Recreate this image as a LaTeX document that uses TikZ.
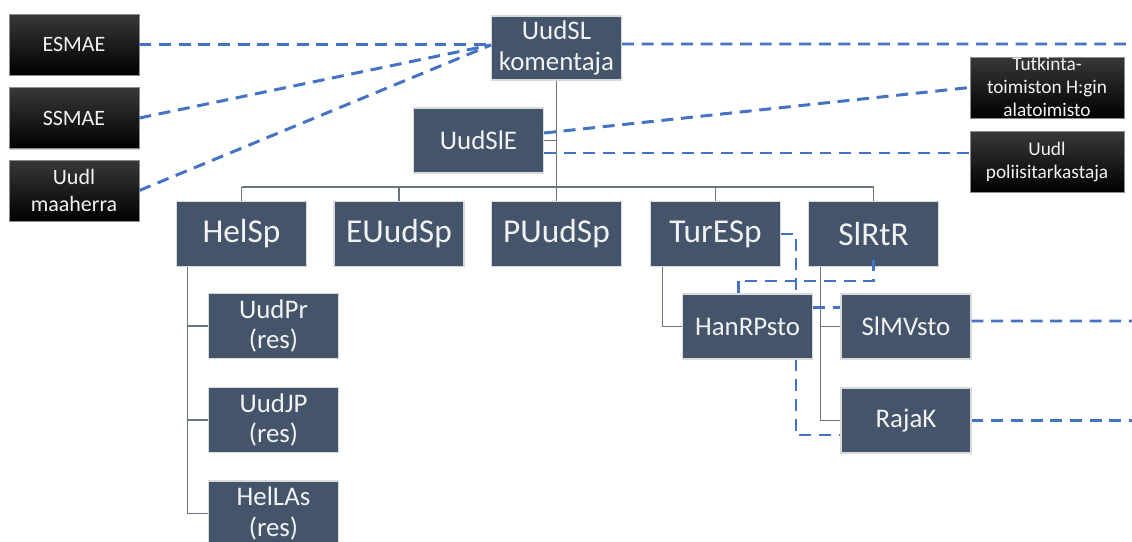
\documentclass[tikz,border=0pt]{standalone}
\usepackage{fontspec}
\setmainfont{Carlito}
\usetikzlibrary{calc}
\usetikzlibrary{positioning}
\usetikzlibrary{shadows}

\definecolor{slate}{RGB}{68,84,106}
\definecolor{linkblue}{RGB}{68,114,196}
\definecolor{treegray}{RGB}{105,115,130}
\definecolor{boxtext}{RGB}{242,242,242}

\tikzset{
  unit/.style={rectangle, fill=slate, draw=black!15, line width=0.6pt, text=boxtext, align=center,
    inner sep=0pt, minimum width=2.6cm, minimum height=1.3cm},
  big/.style={unit, font=\fontsize{19}{22}\selectfont},
  sub/.style={unit, font=\fontsize{15.3}{17.6}\selectfont},
  ext/.style={rectangle, top color=black!78, middle color=black, bottom color=black, draw=black!45,
    line width=0.4pt, text=boxtext, align=center, inner sep=0pt, minimum width=2.6cm,
    minimum height=1.22cm, drop shadow={opacity=0.35, shadow xshift=0.8pt, shadow yshift=-0.8pt},
    font=\fontsize{12.5}{15}\selectfont},
  note/.style={ext, minimum width=3.08cm, font=\fontsize{11}{13.1}\selectfont},
  tree/.style={treegray, line width=0.9pt},
  link/.style={linkblue, line width=1.7pt, dash pattern=on 6.8pt off 4.4pt},
}

\begin{document}
\begin{tikzpicture}[x=0.02cm, y=-0.02cm]
	\useasboundingbox (0,0) rectangle (1132,541);

	% outside units
	\node[ext] (esmae) at (74,44.5) {ESMAE};
	\node[ext] (ssmae) at (74,118) {SSMAE};
	\node[ext] (maaherra) at (74,190.5) {Uudl\\maaherra};
	\node[note, text height=1.2cm, text depth=0.02cm] (tutkinta) at (1047,87.5) {Tutkinta-\\toimiston H:gin\\alatoimisto};
	\node[note] (polis) at (1047,161.5) {Uudl\\poliisitarkastaja};

	% command
	\node[sub, minimum height=1.28cm] (komentaja) at (556.5,48) {UudSL\\komentaja};
	\node[sub] (uudsle) at (478.5,140.5) {UudSlE};

	% main units
	\node[big] (helsp) at (241.5,234) {HelSp};
	\node[big] (euudsp) at (399,234) {EUudSp};
	\node[big] (puudsp) at (556.5,234) {PUudSp};
	\node[big] (turesp) at (715.5,234) {TurESp};
	\node[big] (slrtr) at (873.5,234) {SlRtR};

	% sub units
	\node[sub] (uudpr) at (273.5,326) {UudPr\\(res)};
	\node[sub] (uudjp) at (273.5,420) {UudJP\\(res)};
	\node[sub] (hellas) at (273.5,513.5) {HelLAs\\(res)};
	\node[sub] (hanrpsto) at (747.5,326.5) {HanRPsto};
	\node[sub] (slmvsto) at (906,326.5) {SlMVsto};
	\node[sub] (rajak) at (906,420.5) {RajaK};

	% chain of command
	\coordinate (bus) at (556.5,187);
	\draw[tree] (komentaja.south) -- (puudsp.north);
	\draw[tree] (bus -| helsp) -- (bus -| slrtr);
	\draw[tree] (bus -| helsp) -- (helsp.north);
	\draw[tree] (bus -| euudsp) -- (euudsp.north);
	\draw[tree] (bus -| turesp) -- (turesp.north);
	\draw[tree] (bus -| slrtr) -- (slrtr.north);
	\draw[tree] (uudsle.east) -- (uudsle.east -| komentaja.south);
	\draw[tree] ([xshift=0.23cm]helsp.south west) |- (uudpr.west);
	\draw[tree] ([xshift=0.23cm]helsp.south west) |- (uudjp.west);
	\draw[tree] ([xshift=0.23cm]helsp.south west) |- (hellas.west);
	\draw[tree] ([xshift=0.25cm]turesp.south west) |- (hanrpsto.west);
	\draw[tree] ([xshift=0.25cm]slrtr.south west) |- (slmvsto.west);
	\draw[tree] ([xshift=0.25cm]slrtr.south west) |- (rajak.west);

	% cooperation links
	\coordinate (farA) at (1132,44);
	\coordinate (farB) at (1132,321);
	\coordinate (farC) at (1132,420.5);
	\coordinate (jog) at (738,281);
	\draw[link] (esmae.east) -- (esmae.east -| komentaja.west);
	\draw[link] (ssmae.east) -- ([yshift=0.06cm]komentaja.west);
	\draw[link] (maaherra.east) -- ([yshift=0.06cm]komentaja.west);
	\draw[link] ([yshift=0.08cm]komentaja.east) -- (farA);
	\draw[link] ([yshift=0.15cm]uudsle.east) -- (tutkinta.west);
	\draw[link] ([yshift=-0.25cm]uudsle.east) coordinate (lowE) -- (lowE -| polis.west);
	\draw[link] (turesp.east) -| ([xshift=0.97cm]hanrpsto.north);
	\draw[link] ([yshift=0.15cm]slrtr.south) |- (jog) -- (jog |- hanrpsto.north);
	\draw[link] ([xshift=0.97cm]hanrpsto.south) |- ([yshift=-0.29cm]rajak.west);
	\draw[link] ([yshift=0.39cm]hanrpsto.east) coordinate (midH) -- (midH -| slmvsto.west);
	\draw[link] ([yshift=0.11cm]slmvsto.east) -- (farB);
	\draw[link] (rajak.east) -- (farC);
\end{tikzpicture}
\end{document}
